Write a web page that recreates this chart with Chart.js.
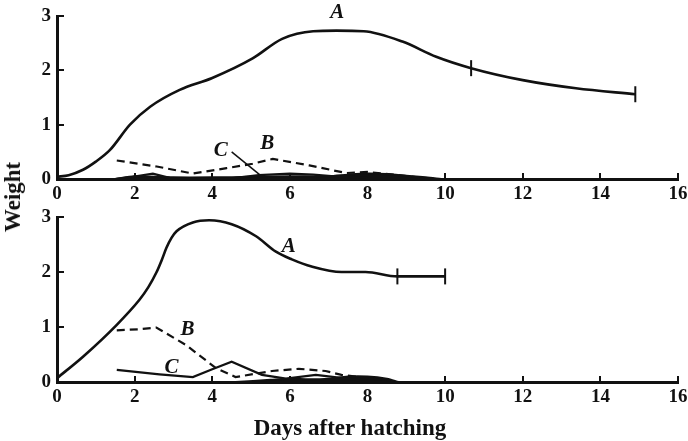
<!DOCTYPE html>
<html>
<head>
<meta charset="utf-8">
<script src="https://cdn.jsdelivr.net/npm/chart.js@4.4.1/dist/chart.umd.min.js"></script>
<style>
  html, body { margin: 0; padding: 0; background: #fff; }
  #wrap { position: relative; width: 688px; height: 441px; overflow: hidden; }
  #topChart { position: absolute; left: 0; top: 0; }
  #bottomChart { position: absolute; left: 0; top: 200px; }
  .axisTitle { position: absolute; font: bold 23px "Liberation Serif", serif; color: #111; white-space: nowrap; }
  #ylabel { left: 13px; top: 197px; transform: translate(-50%, -50%) rotate(-90deg); }
  #xlabel { left: 350px; top: 428px; transform: translate(-50%, -50%); }
</style>
</head>
<body>
<div id="wrap">
  <canvas id="topChart" width="688" height="200"></canvas>
  <canvas id="bottomChart" width="688" height="241"></canvas>
  <div id="ylabel" class="axisTitle">Weight</div>
  <div id="xlabel" class="axisTitle">Days after hatching</div>
</div>
<script>
// x ticks (days) and y ticks (weight)
const dayTicks = [0, 2, 4, 6, 8, 10, 12, 14, 16];
const weightTicks = [0, 1, 2, 3];

// upper panel
const topADays = [0, 0.3, 0.67, 1.0, 1.36, 1.88, 2.4, 3.16, 4.0, 5.04, 5.8, 6.6, 7.2, 7.9, 8.9, 9.77, 10.67, 12.0, 13.37, 14.9];
const topAWeight = [0.04, 0.07, 0.17, 0.32, 0.53, 1.0, 1.33, 1.64, 1.86, 2.22, 2.58, 2.72, 2.73, 2.72, 2.53, 2.25, 2.04, 1.82, 1.67, 1.56];
const topBDays = [1.54, 2.57, 3.5, 4.37, 5.04, 5.56, 6.5, 7.45, 8.0, 8.8, 9.7];
const topBWeight = [0.34, 0.23, 0.1, 0.2, 0.28, 0.37, 0.25, 0.11, 0.13, 0.07, 0.0];
const topCDays = [1.5, 1.95, 2.47, 2.9, 3.5, 4.5, 5.2, 6.0, 6.6, 7.3, 8.0];
const topCWeight = [0.0, 0.04, 0.1, 0.02, 0.0, 0.01, 0.07, 0.1, 0.08, 0.04, 0.02];
const topDDays = [1.5, 2.0, 3.0, 4.0, 5.0, 6.0, 7.0, 7.5, 8.0, 8.5, 9.0, 9.5, 9.9];
const topDWeight = [0.0, 0.05, 0.03, 0.03, 0.04, 0.05, 0.05, 0.08, 0.1, 0.09, 0.06, 0.03, 0.0];
const topMarkDays = [10.67, 14.9];
const topMarkWeight = [2.04, 1.56];

// lower panel
const botADays = [0, 0.67, 1.54, 2.13, 2.35, 2.56, 2.7, 2.82, 2.95, 3.08, 3.5, 3.92, 4.5, 5.13, 5.64, 6.05, 6.56, 7.33, 7.95, 8.77, 10];
const botAWeight = [0.07, 0.46, 1.04, 1.5, 1.72, 1.99, 2.22, 2.44, 2.62, 2.74, 2.9, 2.94, 2.87, 2.65, 2.37, 2.23, 2.1, 2.0, 2.0, 1.92, 1.92];
const botBDays = [1.54, 2.13, 2.56, 3.33, 4.1, 4.6, 5.54, 6.23, 6.92, 7.33, 8.0, 8.6];
const botBWeight = [0.94, 0.96, 0.99, 0.67, 0.25, 0.09, 0.2, 0.24, 0.2, 0.13, 0.07, 0.02];
const botCDays = [1.54, 2.64, 3.5, 4.0, 4.5, 5.28, 5.9, 6.67, 7.26, 7.8];
const botCWeight = [0.22, 0.14, 0.09, 0.23, 0.37, 0.13, 0.06, 0.13, 0.08, 0.03];
const botDDays = [4.6, 5.5, 6.0, 6.5, 7.0, 7.5, 8.0, 8.5, 8.8];
const botDWeight = [0.0, 0.04, 0.06, 0.05, 0.06, 0.1, 0.1, 0.06, 0.0];
const botMarkDays = [8.77, 10];
const botMarkWeight = [1.92, 1.92];

// curve letters, anchored in data units
const topLetters = [
  { text: 'A', day: 7.22, w: 3.06 },
  { text: 'B', day: 5.42, w: 0.66 },
  { text: 'C', day: 4.22, w: 0.53 }
];
const topPointer = { from: [4.5, 0.5], to: [5.22, 0.08] };
const botLetters = [
  { text: 'A', day: 5.97, w: 2.46 },
  { text: 'B', day: 3.36, w: 0.95 },
  { text: 'C', day: 2.95, w: 0.27 }
];

const ink = '#111';
const serif = '"Liberation Serif", "DejaVu Serif", serif';

function pts(xs, ys) {
  return xs.map((d, i) => ({ x: d, y: ys[i] }));
}

function curves(aD, aW, bD, bW, cD, cW, dD, dW, mD, mW) {
  return [
    { data: pts(aD, aW), borderColor: ink, borderWidth: 2.6, cubicInterpolationMode: 'monotone', pointRadius: 0 },
    { data: pts(bD, bW), borderColor: ink, borderWidth: 2.2, borderDash: [8, 5], tension: 0, pointRadius: 0 },
    { data: pts(cD, cW), borderColor: ink, borderWidth: 2.2, tension: 0, pointRadius: 0 },
    { data: pts(dD, dW), borderColor: ink, backgroundColor: ink, borderWidth: 2, fill: 'origin', tension: 0.3, pointRadius: 0 },
    { data: pts(mD, mW), showLine: false, pointStyle: 'line', rotation: 90, pointRadius: 8,
      borderColor: ink, borderWidth: 2 }
  ];
}

const letterPlugin = {
  id: 'letters',
  afterDatasetsDraw(chart, args, opts) {
    const { ctx, scales: { x, y } } = chart;
    ctx.save();
    ctx.fillStyle = ink;
    ctx.strokeStyle = ink;
    ctx.font = 'italic bold 21px ' + serif;
    ctx.textAlign = 'center';
    ctx.textBaseline = 'middle';
    opts.items.forEach(it => ctx.fillText(it.text, x.getPixelForValue(it.day), y.getPixelForValue(it.w)));
    if (opts.pointer) {
      ctx.lineWidth = 1.5;
      ctx.beginPath();
      ctx.moveTo(x.getPixelForValue(opts.pointer.from[0]), y.getPixelForValue(opts.pointer.from[1]));
      ctx.lineTo(x.getPixelForValue(opts.pointer.to[0]), y.getPixelForValue(opts.pointer.to[1]));
      ctx.stroke();
    }
    ctx.restore();
  }
};

function makePanel(id, datasets, letters, pointer, padTop, xHeight, padRight) {
  const ctx = document.getElementById(id).getContext('2d');
  return new Chart(ctx, {
    type: 'line',
    data: { datasets: datasets },
    plugins: [letterPlugin],
    options: {
      responsive: false,
      animation: false,
      devicePixelRatio: 1,
      layout: { padding: { left: 0, right: padRight, top: padTop, bottom: 0 } },
      plugins: {
        legend: { display: false },
        tooltip: { enabled: false },
        letters: { items: letters, pointer: pointer }
      },
      scales: {
        x: {
          type: 'linear', min: 0, max: 16,
          afterBuildTicks: s => { s.ticks = dayTicks.map(v => ({ value: v })); },
          afterFit: s => { s.height = xHeight; s.paddingLeft = 0; s.paddingRight = 0; },
          border: { display: true, color: ink, width: 3 },
          grid: { drawOnChartArea: false, drawTicks: true, tickLength: -6, color: ink, lineWidth: 2 },
          ticks: { color: ink, padding: 10, maxRotation: 0, font: { family: serif, size: 19, weight: 'bold' } }
        },
        y: {
          type: 'linear', min: 0, max: 3,
          afterBuildTicks: s => { s.ticks = weightTicks.map(v => ({ value: v })); },
          afterFit: s => { s.width = 57; s.paddingTop = 0; s.paddingBottom = 0; },
          border: { display: true, color: ink, width: 3 },
          grid: { drawOnChartArea: false, drawTicks: true, tickLength: -7, color: ink, lineWidth: 2 },
          ticks: { color: ink, padding: 13, font: { family: serif, size: 19, weight: 'bold' } }
        }
      }
    }
  });
}

makePanel('topChart',
  curves(topADays, topAWeight, topBDays, topBWeight, topCDays, topCWeight, topDDays, topDWeight, topMarkDays, topMarkWeight),
  topLetters, topPointer, 16, 21, 9);

makePanel('bottomChart',
  curves(botADays, botAWeight, botBDays, botBWeight, botCDays, botCWeight, botDDays, botDWeight, botMarkDays, botMarkWeight),
  botLetters, null, 17, 59, 7);
</script>
</body>
</html>
